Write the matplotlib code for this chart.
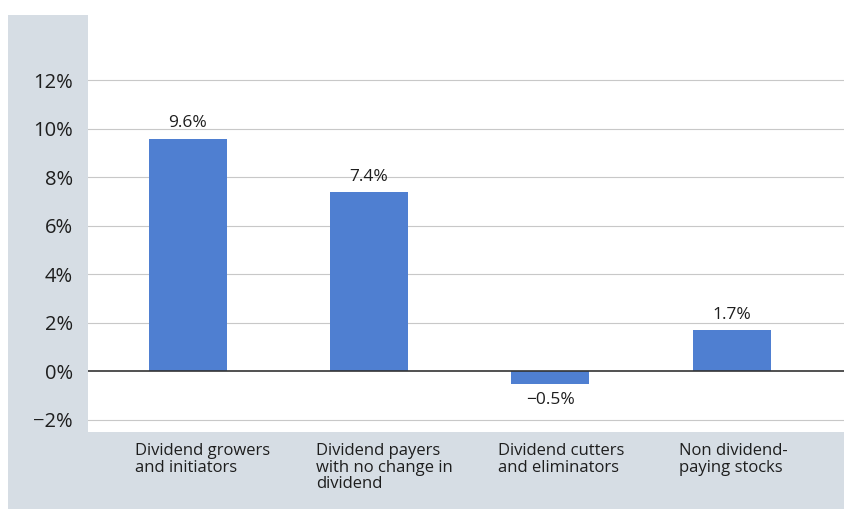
import matplotlib.pyplot as plt
from matplotlib.patches import Rectangle

categories = ["Dividend growers\nand initiators",
              "Dividend payers\nwith no change in\ndividend",
              "Dividend cutters\nand eliminators",
              "Non dividend-\npaying stocks"]
returns = [9.6, 7.4, -0.5, 1.7]
value_labels = ["9.6%", "7.4%", "\u22120.5%", "1.7%"]
yticks = [-2, 0, 2, 4, 6, 8, 10, 12]
ytick_labels = ["\u22122%", "0%", "2%", "4%", "6%", "8%", "10%", "12%"]

plt.rcParams['font.family'] = ['Open Sans', 'DejaVu Sans']

W, H = 844, 513
fig = plt.figure(figsize=(W / 100, H / 100), dpi=100, facecolor='white')

# grey-blue frame behind the plot (left strip + bottom band)
band = '#d6dde4'
fig.patches.append(Rectangle((8 / W, (H - 509) / H), (844 - 8) / W, (509 - 15) / H,
                             transform=fig.transFigure, facecolor=band,
                             edgecolor='none', zorder=-5))

ax = fig.add_axes([88 / W, (H - 432) / H, (844 - 88) / W, (432 - 15) / H])
ax.set_facecolor('white')

x = range(len(returns))
ax.bar(x, returns, width=0.43, color='#4f7fd1', zorder=3)

ax.set_xlim(-0.55, 3.62)
ax.set_ylim(-2.5, 14.7)
ax.set_yticks(yticks)
ax.set_yticklabels(ytick_labels, fontsize=14.5, color='#1e1e1e')
ax.tick_params(axis='y', length=0, pad=11)
ax.set_xticks([])
for s in ax.spines.values():
    s.set_visible(False)

for t in yticks:
    if t != 0:
        ax.axhline(t, color='#c8c8c8', linewidth=0.8, zorder=1)
ax.axhline(0, color='#333333', linewidth=1.2, zorder=4)

for i, (v, lab) in enumerate(zip(returns, value_labels)):
    if v >= 0:
        ax.text(i, v + 0.3, lab, ha='center', va='bottom', fontsize=12.5, color='#1e1e1e')
    else:
        ax.text(i, v - 0.35, lab, ha='center', va='top', fontsize=12.5, color='#1e1e1e')

for i, c in enumerate(categories):
    ax.annotate(c, xy=(i - 0.29, 0), xycoords=('data', 'axes fraction'),
                xytext=(0, -8), textcoords='offset points',
                ha='left', va='top', fontsize=12, color='#1e1e1e',
                linespacing=1.05)

fig.savefig('out.png', dpi=100, facecolor='white')
